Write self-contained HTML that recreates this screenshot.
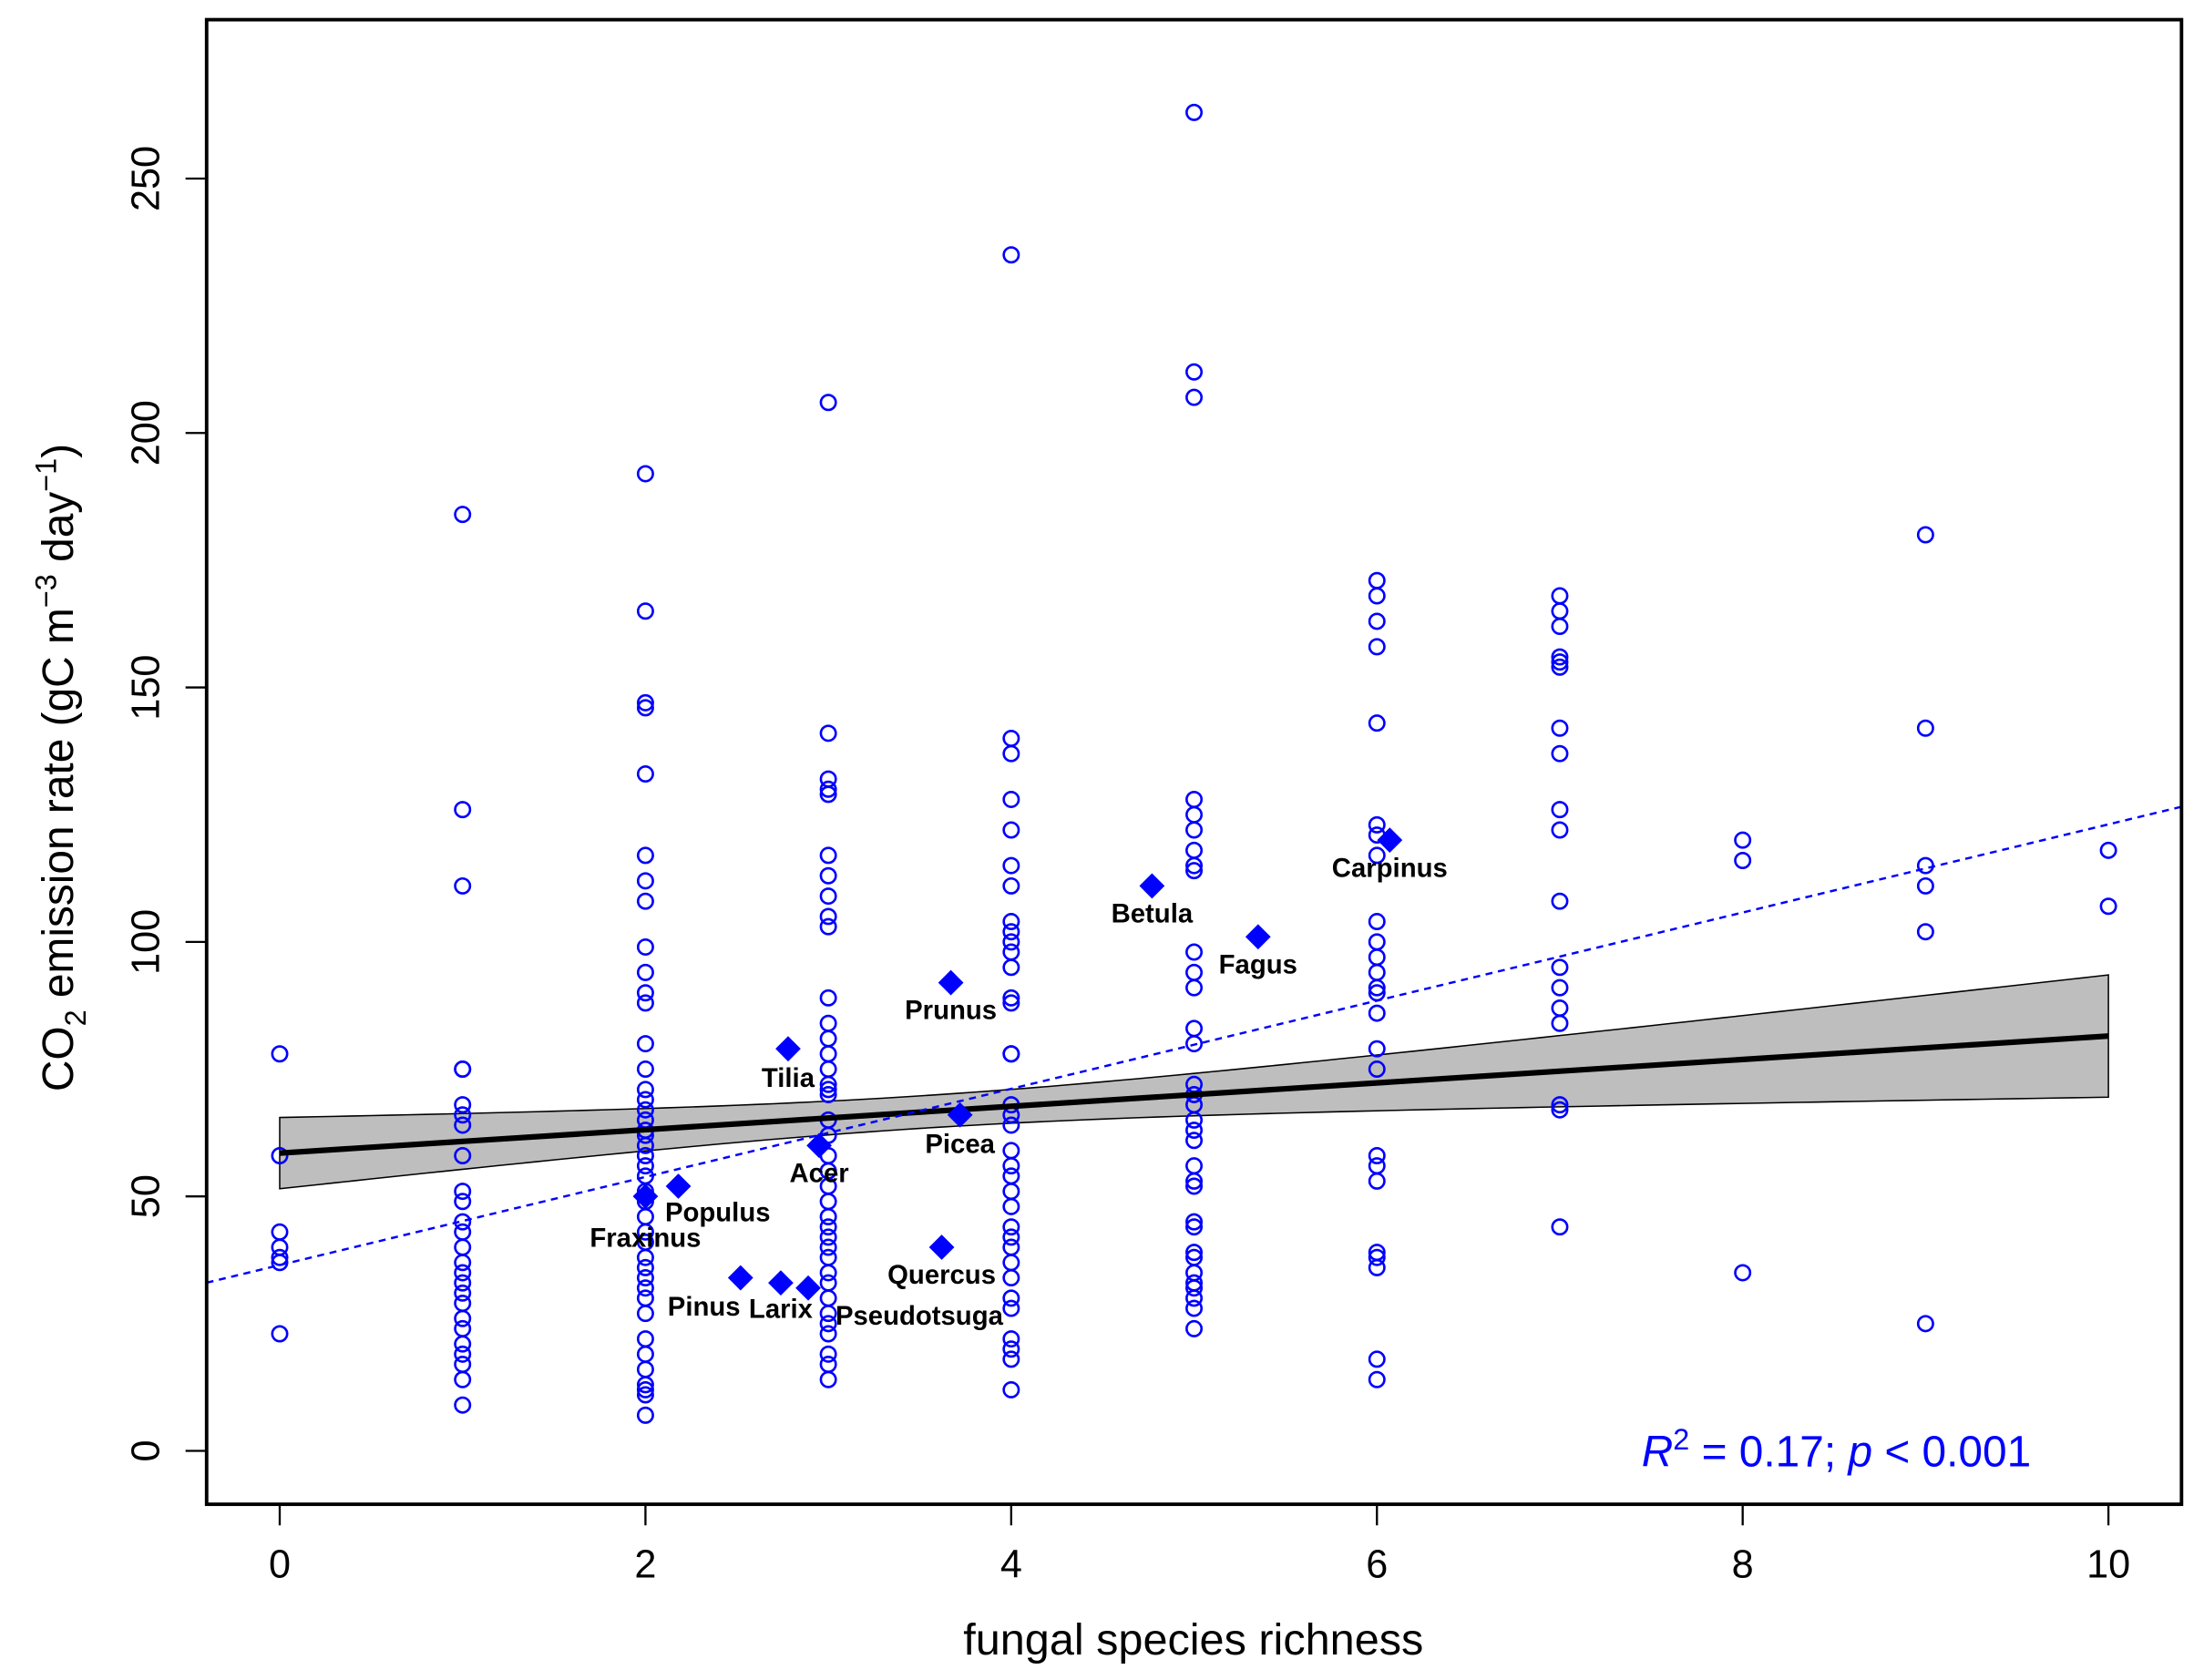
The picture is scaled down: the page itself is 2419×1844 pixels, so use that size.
<!DOCTYPE html>
<html><head><meta charset="utf-8"><style>
html,body{margin:0;padding:0;background:#fff;}
svg{display:block;font-family:"Liberation Sans",Arial,sans-serif;}
</style></head><body>
<svg id="chart" width="2419" height="1844" viewBox="0 0 1568 1195" preserveAspectRatio="none" xmlns="http://www.w3.org/2000/svg">
<rect x="0" y="0" width="1568" height="1195" fill="#fff"/>
<g id="band"></g>
<g id="pts"></g>
<g id="lines"></g>
<g id="genus"></g>
<g id="axes"></g>
<rect x="147" y="14" width="1405" height="1056" fill="none" stroke="#000" stroke-width="2.5"/>
<text x="849" y="1177" font-size="31.5" text-anchor="middle">fungal species richness</text>
<text transform="translate(52,546) rotate(-90)" font-size="31" text-anchor="middle">CO<tspan font-size="21" dy="9">2</tspan><tspan dy="-9"> emission rate (gC m</tspan><tspan font-size="21" dy="-12">−3</tspan><tspan dy="12"> day</tspan><tspan font-size="21" dy="-12">−1</tspan><tspan dy="12">)</tspan></text>
<text x="1445" y="1043" font-size="31" fill="#0000ff" text-anchor="end"><tspan font-style="italic">R</tspan><tspan font-size="21" dy="-12">2</tspan><tspan dy="12"> = 0.17; </tspan><tspan font-style="italic">p</tspan><tspan> &lt; 0.001</tspan></text>
</svg>
<script>
const richness=[0,1,2,3,4,5,6,7,8,9,10];
const emission=[
[78,58,43,40,38,37,23],
[184,126,111,75,75,68,66,64,58,51,49,45,43,40,37,35,33,31,29,26,24,21,19,17,14,9],
[192,165,147,146,133,117,112,108,99,94,90,88,80,75,71,69,67,65,63,62,60,58,56,54,51,49,46,43,41,38,36,34,32,30,27,22,19,16,13,12,11,7],
[206,141,132,130,129,117,113,109,105,103,89,84,81,78,75,72,71,70,65,62,58,55,52,49,46,44,42,40,38,35,33,30,27,25,23,19,17,14],
[235,140,137,128,122,115,111,104,102,100,98,95,89,88,78,78,68,66,64,59,56,54,51,48,44,42,40,37,34,30,28,22,20,18,12],
[263,212,207,128,125,122,118,115,114,98,94,91,83,80,72,70,68,65,63,61,56,53,52,45,44,39,38,35,33,32,30,28,24],
[171,168,163,158,143,123,121,117,104,100,97,94,91,90,86,79,75,58,56,53,39,38,36,18,14],
[168,165,162,156,155,154,142,137,126,122,108,95,91,87,84,68,67,44],
[120,116,35],
[180,142,115,111,102,25],
[118,107]];
const genusNames=["Fraxinus","Populus","Tilia","Acer","Pinus","Larix","Pseudotsuga","Prunus","Picea","Quercus","Betula","Fagus","Carpinus"];
const genusX=[2.0,2.18,2.78,2.95,2.52,2.74,2.89,3.67,3.72,3.62,4.77,5.35,6.07];
const genusY=[50,52,79,60,34,33,32,92,66,40,111,101,120];
const xTicks=[0,2,4,6,8,10];
const yTicks=[0,50,100,150,200,250];
const fitIntercept=58.5, fitSlope=2.3;
const ciA=10.2, ciB=3.17, ciCenter=3.5;
const dashIntercept=36.5, dashSlope=8.66;

const labelDx=[0,28,0,0,-26,0,79,0,0,0,0,0,0];
const labelDy=[30,19,21,20,21,19,20,20,21,20,20,20,20];

const NS="http://www.w3.org/2000/svg";
const sx=v=>199+v*130.1;
const sy=v=>1032-v*3.62;
function mk(tag,attrs,parent){const e=document.createElementNS(NS,tag);for(const k in attrs)e.setAttribute(k,attrs[k]);parent.appendChild(e);return e;}

const band=document.getElementById('band');
let up=[],lo=[];
for(let i=0;i<=100;i++){const x=i/10;const h=Math.sqrt(ciA+ciB*(x-ciCenter)**2);const m=fitIntercept+fitSlope*x;up.push(sx(x)+','+sy(m+h));lo.unshift(sx(x)+','+sy(m-h));}
const bp=mk('polygon',{points:up.concat(lo).join(' '),fill:'#bebebe',stroke:'#000','stroke-width':1},band);



const pts=document.getElementById('pts');
richness.forEach((r,i)=>{emission[i].forEach(v=>{
 const c=mk('circle',{cx:sx(r),cy:sy(v),r:5.3,fill:'none',stroke:'#0000ff','stroke-width':1.7},pts);
 
 
});});

const lines=document.getElementById('lines');
const fl=mk('line',{x1:sx(0),y1:sy(fitIntercept),x2:sx(10),y2:sy(fitIntercept+fitSlope*10),stroke:'#000','stroke-width':4},lines);


const dl=mk('line',{x1:sx(-0.4),y1:sy(dashIntercept-0.4*dashSlope),x2:sx(10.4),y2:sy(dashIntercept+10.4*dashSlope),stroke:'#0000ff','stroke-width':1.6,'stroke-dasharray':'5,4'},lines);



const g=document.getElementById('genus');
genusNames.forEach((n,i)=>{
 const x=sx(genusX[i]),y=sy(genusY[i]),s=9;
 const d=mk('polygon',{points:`${x},${y-s} ${x+s},${y} ${x},${y+s} ${x-s},${y}`,fill:'#0000ff'},g);
 
 
 const t=mk('text',{x:x+labelDx[i],y:y+labelDy[i]+6,'font-size':19,'font-weight':'bold','text-anchor':'middle',fill:'#000'},g);
 t.textContent=n;
 
 
});

const ax=document.getElementById('axes');
xTicks.forEach(v=>{
 const l=mk('line',{x1:sx(v),y1:1070,x2:sx(v),y2:1085,stroke:'#000','stroke-width':1.5},ax);
 
 
 const t=mk('text',{x:sx(v),y:1122,'font-size':28,'text-anchor':'middle'},ax);
 t.textContent=v;
 
 
});
yTicks.forEach(v=>{
 const l=mk('line',{x1:132,y1:sy(v),x2:147,y2:sy(v),stroke:'#000','stroke-width':1.5},ax);
 
 
 const t=mk('text',{transform:`translate(113,${sy(v)}) rotate(-90)`,'font-size':28,'text-anchor':'middle'},ax);
 t.textContent=v;
 
 
});
</script>
</body></html>
